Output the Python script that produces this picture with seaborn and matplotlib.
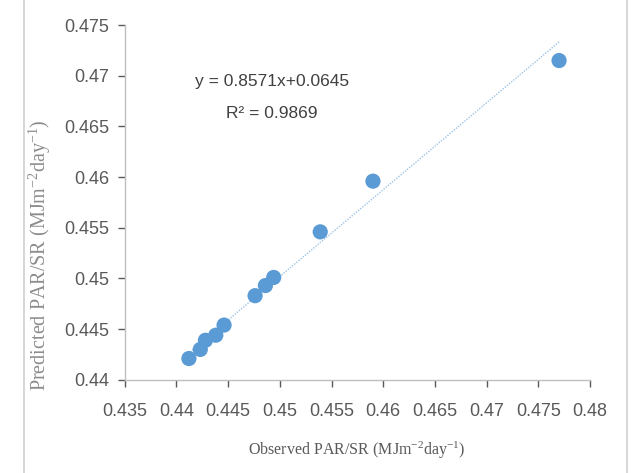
import numpy as np
import pandas as pd
import matplotlib
matplotlib.use('Agg')
import matplotlib.pyplot as plt
import seaborn as sns
from matplotlib.lines import Line2D

# observed vs predicted PAR/SR
observed = [0.4412, 0.4423, 0.4428, 0.4438, 0.4446, 0.4476, 0.4486, 0.4494, 0.4539, 0.4590, 0.4770]
predicted = [0.4421, 0.4430, 0.4439, 0.4444, 0.4454, 0.4483, 0.4493, 0.4501, 0.4546, 0.4596, 0.4715]
slope = 0.8571
intercept = 0.0645
r2 = 0.9869

df = pd.DataFrame({'obs': observed, 'pred': predicted})

sns.set_style('white')
plt.rcParams['font.family'] = ['Liberation Sans', 'DejaVu Sans']

fig = plt.figure(figsize=(6.4, 4.73), dpi=100)
ax = fig.add_axes([0.195, 0.197, 0.727, 0.750])

# trendline
xl = np.array([min(observed) - 0.0003, max(observed)])
ax.plot(xl, slope * xl + intercept, color='#9dc3e6', lw=1, ls=(0, (1, 1)), zorder=1)

sns.scatterplot(data=df, x='obs', y='pred', color='#5b9bd5', s=120, edgecolor='none', ax=ax, zorder=2)

ax.set_xlim(0.435, 0.48)
ax.set_ylim(0.44, 0.475)
ax.set_xticks(np.arange(0.435, 0.4801, 0.005))
ax.set_yticks(np.arange(0.44, 0.4751, 0.005))
ax.set_xticklabels(['0.435', '0.44', '0.445', '0.45', '0.455', '0.46', '0.465', '0.47', '0.475', '0.48'])
ax.set_yticklabels(['0.44', '0.445', '0.45', '0.455', '0.46', '0.465', '0.47', '0.475'])
ax.tick_params(axis='both', labelsize=13, colors='#595959', length=5, width=1, direction='out')
ax.tick_params(axis='x', pad=12)
ax.tick_params(axis='y', pad=6)
ax.xaxis.set_ticks_position('bottom')
ax.yaxis.set_ticks_position('left')
for s in ['top', 'right']:
    ax.spines[s].set_visible(False)
for s in ['left', 'bottom']:
    ax.spines[s].set_color('#bfbfbf')
    ax.spines[s].set_linewidth(1)

ax.set_xlabel(r'Observed PAR/SR (MJm$\mathregular{^{-2}}$day$\mathregular{^{-1}}$)', family='Liberation Serif',
              fontsize=11.5, color='#595959')
ax.xaxis.set_label_coords(0.498, -0.17)
ax.set_ylabel(r'Predicted PAR/SR (MJm$\mathregular{^{-2}}$day$\mathregular{^{-1}}$)', family='Liberation Serif',
              fontsize=14.5, color='#8c8c8c')
ax.yaxis.set_label_coords(-0.155, 0.352)

ax.text(0.4492, 0.4694, 'y = 0.8571x+0.0645', fontsize=12.5, color='#404040', ha='center', va='center')
ax.text(0.4492, 0.4663, 'R² = 0.9869', fontsize=12.5, color='#404040', ha='center', va='center')

# chart border
fig.add_artist(Line2D([0.038, 0.038], [0, 1], color='#d0d0d0', lw=1.2, transform=fig.transFigure))
fig.add_artist(Line2D([0.98, 0.98], [0, 1], color='#d0d0d0', lw=1.2, transform=fig.transFigure))

fig.savefig('out.png', dpi=100)
